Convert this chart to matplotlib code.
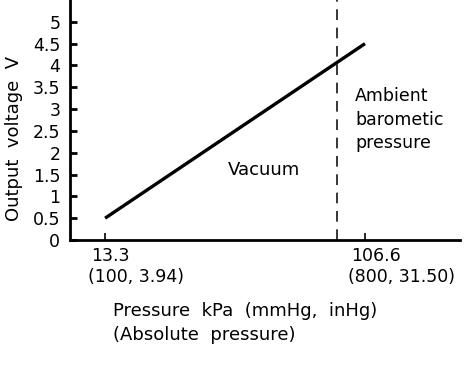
import matplotlib
matplotlib.use('Agg')
import matplotlib.pyplot as plt

# data
pressure_kpa = [13.3, 106.6]
voltage = [0.5, 4.5]
tick_kpa = [13.3, 106.6]
tick_top = ['13.3', '106.6']
tick_bottom = ['(100, 3.94)', '(800, 31.50)']
ambient_kpa = 96.5
y_ticks = [0, 0.5, 1, 1.5, 2, 2.5, 3, 3.5, 4, 4.5, 5]
y_labels = ['0', '0.5', '1', '1.5', '2', '2.5', '3', '3.5', '4', '4.5', '5']

plt.rcParams['font.family'] = ['DejaVu Sans']
fs = 12.5

fig = plt.figure(figsize=(4.72, 3.69), dpi=100)
ax = fig.add_axes([70 / 472, 129 / 369, 390 / 472, 240 / 369])

ax.plot(pressure_kpa, voltage, color='black', lw=2.4, solid_capstyle='butt')
ax.axvline(ambient_kpa, color='black', lw=1.1, dashes=(7, 5))

ax.set_xlim(0.7, 140.7)
ax.set_ylim(0, 5.5)

for s in ['top', 'right']:
    ax.spines[s].set_visible(False)
for s in ['left', 'bottom']:
    ax.spines[s].set_linewidth(2)

ax.set_yticks(y_ticks)
ax.set_yticklabels(y_labels, fontsize=fs)
ax.tick_params(axis='y', direction='in', length=5, width=2, pad=7)
ax.set_xticks(tick_kpa)
ax.set_xticklabels([])
ax.tick_params(axis='x', direction='in', length=5, width=1.2)

# two-line tick labels, both lines left-aligned a bit left of the tick
for x, top, bottom in zip(tick_kpa, tick_top, tick_bottom):
    ax.annotate(top, xy=(x, 0), xycoords=('data', 'axes fraction'),
                xytext=(-14, -7), textcoords='offset pixels',
                ha='left', va='top', fontsize=fs)
    ax.annotate(bottom, xy=(x, 0), xycoords=('data', 'axes fraction'),
                xytext=(-17, -28), textcoords='offset pixels',
                ha='left', va='top', fontsize=fs)

fig.text(14 / 472, 1 - 138 / 369, 'Output  voltage  V', rotation=90,
         ha='center', va='center', fontsize=13)

fig.text(113 / 472, 1 - 302 / 369, 'Pressure  kPa  (mmHg,  inHg)',
         ha='left', va='top', fontsize=13)
fig.text(113 / 472, 1 - 326 / 369, '(Absolute  pressure)',
         ha='left', va='top', fontsize=13)

fig.text(228 / 472, 1 - 161 / 369, 'Vacuum', ha='left', va='top', fontsize=13)
fig.text(355 / 472, 1 - 87 / 369, 'Ambient\nbarometic\npressure',
         ha='left', va='top', fontsize=fs, linespacing=1.4)

fig.savefig('out.png', dpi=100)
